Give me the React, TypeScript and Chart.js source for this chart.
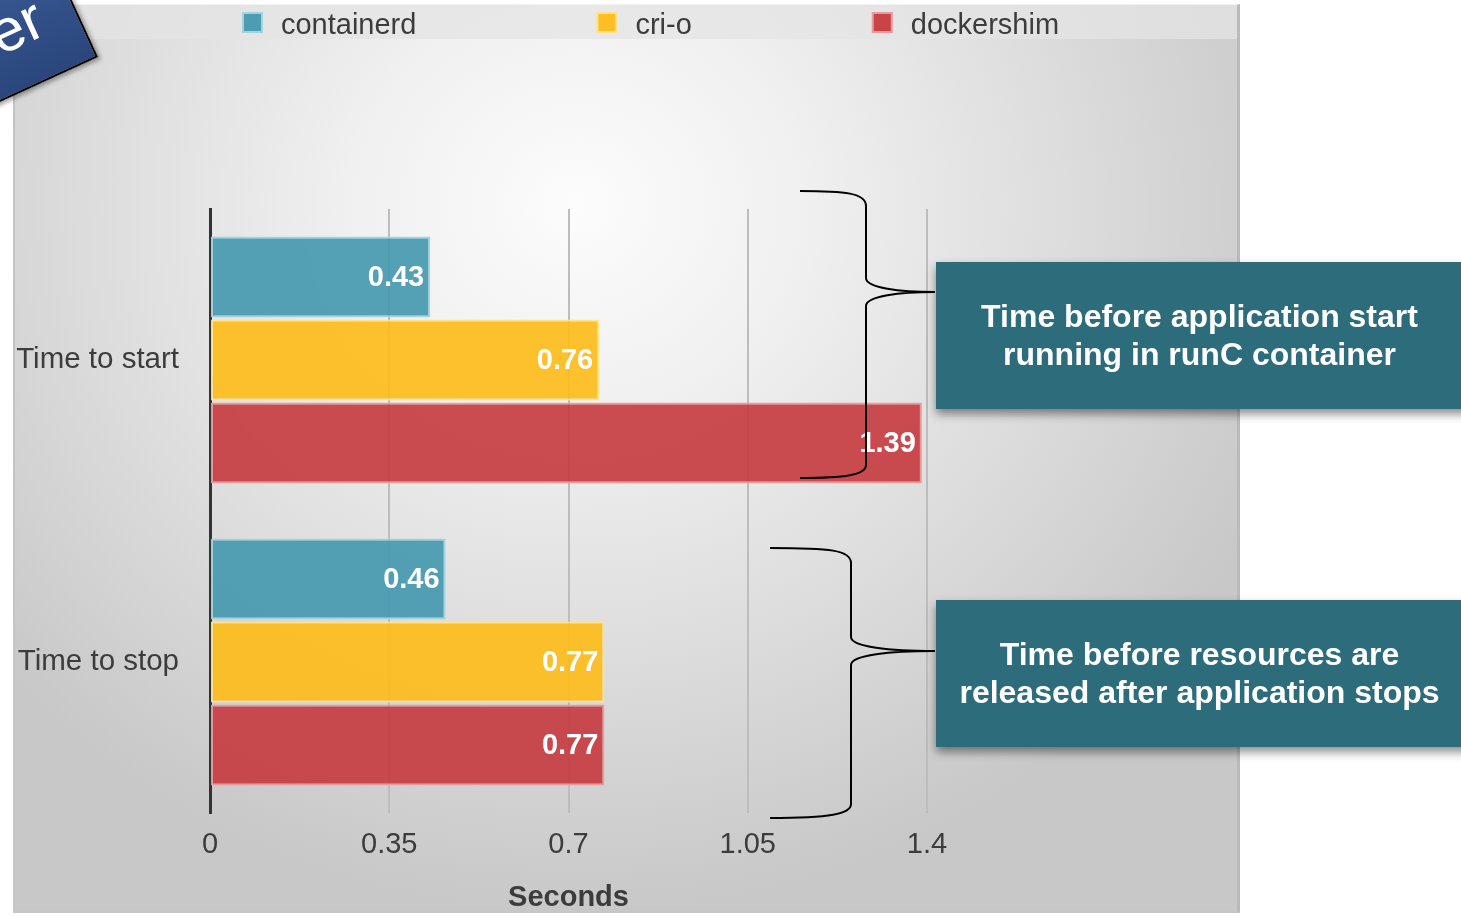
import React, { useEffect, useRef } from "react";
import { Chart, registerables } from "chart.js";

Chart.register(...registerables);

const categories = ["Time to start", "Time to stop"];
const seriesNames = ["containerd", "cri-o", "dockershim"];
const containerdValues = [0.43, 0.46];
const crioValues = [0.76, 0.77];
const dockershimValues = [1.39, 0.77];
const xTickValues = [0, 0.35, 0.7, 1.05, 1.4];
const xAxisTitle = "Seconds";
const calloutTexts = [
  ["Time before application start", "running in runC container"],
  ["Time before resources are", "released after application stops"],
];
const badgeText = "er";

const FONT = "'Liberation Sans', Arial, Helvetica, sans-serif";
const fills = ["rgba(66,151,173,0.9)", "rgba(254,187,24,0.9)", "rgba(197,58,62,0.9)"];
const borders = ["rgba(160,210,222,0.95)", "rgba(254,225,140,0.95)", "rgba(232,150,152,0.95)"];

const legendPlugin = {
  id: "customLegend",
  afterDraw(chart: any) {
    const ctx = chart.ctx;
    ctx.save();
    ctx.font = `29px ${FONT}`;
    ctx.textBaseline = "middle";
    ctx.textAlign = "left";
    const ds = chart.data.datasets;
    const box = 21;
    const gapText = 18;
    const gapItem = 180;
    const widths = ds.map((d: any) => box + gapText + ctx.measureText(d.label).width);
    const total = widths.reduce((a: number, b: number) => a + b, 0) + gapItem * (ds.length - 1);
    let x = 637.5 - total / 2;
    const cy = 17;
    ds.forEach((d: any, i: number) => {
      ctx.fillStyle = d.borderColor;
      ctx.fillRect(x, cy - 10, box, box);
      ctx.fillStyle = d.backgroundColor;
      ctx.fillRect(x + 2, cy - 8, box - 4, box - 4);
      ctx.fillStyle = "#3c3c3c";
      ctx.fillText(d.label, x + box + gapText, cy + 4);
      x += widths[i] + gapItem;
    });
    ctx.restore();
  },
};

const valueLabelPlugin = {
  id: "valueLabels",
  afterDatasetsDraw(chart: any) {
    const ctx = chart.ctx;
    ctx.save();
    ctx.font = `bold 29px ${FONT}`;
    ctx.fillStyle = "#ffffff";
    ctx.textAlign = "right";
    ctx.textBaseline = "middle";
    chart.data.datasets.forEach((d: any, i: number) => {
      chart.getDatasetMeta(i).data.forEach((bar: any, j: number) => {
        ctx.fillText(String(d.data[j]), bar.x - 6, bar.y + 1);
      });
    });
    ctx.restore();
  },
};

export default function App() {
  const canvasRef = useRef<HTMLCanvasElement | null>(null);

  useEffect(() => {
    const canvas = canvasRef.current;
    if (!canvas) return;
    const seriesValues = [containerdValues, crioValues, dockershimValues];
    const chart = new Chart(canvas, {
      type: "bar",
      data: {
        labels: categories,
        datasets: seriesNames.map((name, i) => ({
          label: name,
          data: seriesValues[i],
          backgroundColor: fills[i],
          borderColor: borders[i],
          borderWidth: 2,
          borderSkipped: false,
          categoryPercentage: 0.8245,
          barPercentage: 0.976,
        })),
      },
      options: {
        indexAxis: "y",
        animation: false,
        responsive: false,
        maintainAspectRatio: false,
        layout: { padding: { left: 0, top: 204, right: 313, bottom: 0 } },
        plugins: {
          legend: { display: false },
          tooltip: { enabled: false },
        },
        scales: {
          x: {
            type: "linear",
            min: 0,
            max: 1.4,
            afterBuildTicks: (scale: any) => {
              scale.ticks = xTickValues.map((v) => ({ value: v }));
            },
            afterFit: (scale: any) => {
              scale.height = 100;
            },
            ticks: {
              color: "#3c3c3c",
              font: { family: FONT, size: 29 },
              padding: 15,
              callback: (v: any) => String(v),
            },
            grid: {
              color: (c: any) => (c.index === 0 ? "rgba(0,0,0,0)" : "#bdbdbd"),
              lineWidth: 2,
              drawTicks: false,
            },
            border: { display: false },
            title: {
              display: true,
              text: xAxisTitle,
              color: "#3c3c3c",
              font: { family: FONT, size: 29, weight: "bold" },
              padding: { top: 0, bottom: -2 },
            },
          },
          y: {
            type: "category",
            afterFit: (scale: any) => {
              scale.width = 197;
            },
            ticks: {
              color: "#3c3c3c",
              font: { family: FONT, size: 29.5 },
              padding: 31,
            },
            grid: { display: false, drawTicks: false },
            border: { display: true, color: "#333333", width: 3 },
          },
        },
      },
      plugins: [legendPlugin, valueLabelPlugin],
    } as any);
    return () => chart.destroy();
  }, []);

  const calloutTops = [262, 600];

  return (
    <div
      style={{
        position: "fixed",
        left: 0,
        top: 0,
        width: 1461,
        height: 916,
        overflow: "hidden",
        background: "#ffffff",
        fontFamily: FONT,
      }}
    >
      {/* panel */}
      <div
        style={{
          position: "absolute",
          left: 13,
          top: 4,
          width: 1227,
          height: 909,
          boxSizing: "border-box",
          borderLeft: "2px solid #c4c4c4",
          borderRight: "3px solid #bababa",
          borderBottom: "2px solid #c6c6c6",
          borderTop: "1px solid #f2f2f2",
          background:
            "radial-gradient(ellipse 62% 78% at 46% 22%, #fcfcfc 0%, #f0f0f0 30%, #dedede 62%, #c8c8c8 100%)",
        }}
      >
        <div
          style={{
            position: "absolute",
            left: 0,
            top: 0,
            right: 0,
            height: 34,
            background: "rgba(228,228,228,0.75)",
          }}
        />
      </div>
      <canvas
        ref={canvasRef}
        width={1227}
        height={908}
        style={{ position: "absolute", left: 13, top: 5, width: 1227, height: 908 }}
      />
      {/* braces */}
      <svg
        width={1461}
        height={916}
        style={{ position: "absolute", left: 0, top: 0, pointerEvents: "none" }}
      >
        <path
          d="M800,191 C845,191 866,193 866,206 L866,278 C866,288 900,292 935,292 C900,292 866,296 866,306 L866,465 C866,475 845,478 800,478"
          fill="none"
          stroke="#000"
          strokeWidth={2}
        />
        <path
          d="M770,548 C830,548 851,550 851,563 L851,637 C851,647 890,651 935,651 C890,651 851,655 851,665 L851,804 C851,814 830,818 770,818"
          fill="none"
          stroke="#000"
          strokeWidth={2}
        />
      </svg>
      {/* callouts */}
      {calloutTexts.map((lines, i) => (
        <div
          key={i}
          style={{
            position: "absolute",
            left: 936,
            top: calloutTops[i],
            width: 540,
            height: 147,
            background: "#2c6c7b",
            boxShadow: "0 5px 9px rgba(0,0,0,0.45)",
          }}
        >
          <div
            style={{
              position: "absolute",
              left: 0,
              width: 527,
              top: 35,
              textAlign: "center",
              color: "#ffffff",
              fontWeight: "bold",
              fontSize: 32,
              lineHeight: "38px",
            }}
          >
            {lines.map((l, k) => (
              <div key={k}>{l}</div>
            ))}
          </div>
        </div>
      ))}
      {/* corner badge */}
      <div
        style={{
          position: "absolute",
          left: 98 - 320,
          top: 57 - 140,
          width: 320,
          height: 140,
          boxSizing: "border-box",
          border: "2px solid #000",
          background: "linear-gradient(180deg, #3c5c98 0%, #2a467c 100%)",
          transformOrigin: "100% 100%",
          transform: "rotate(-24.7deg)",
          boxShadow: "2px 3px 4px rgba(0,0,0,0.35)",
        }}
      >
        <div
          style={{
            position: "absolute",
            right: 33,
            bottom: 30,
            color: "#ffffff",
            fontSize: 60,
            lineHeight: "60px",
            fontFamily: FONT,
          }}
        >
          {badgeText}
        </div>
      </div>
    </div>
  );
}
